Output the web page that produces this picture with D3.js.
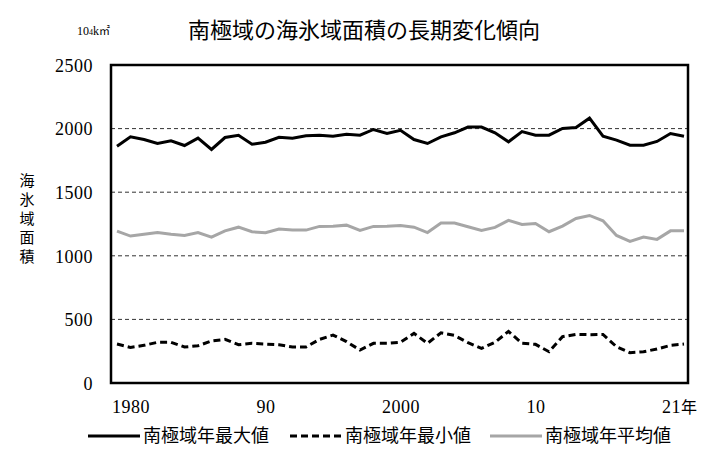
<!DOCTYPE html>
<html><head><meta charset="utf-8">
<script src="https://cdn.jsdelivr.net/npm/d3@7"></script>
<style>
html,body{margin:0;padding:0;background:#fff;}
svg{display:block;}
.serif{font-family:"Liberation Serif","DejaVu Serif",serif !important;}
</style></head>
<body>
<svg id="chart" width="722" height="466"></svg>
<script>
const years = d3.range(1979, 2022);
const maxValues = [1862,1935,1914,1883,1904,1867,1925,1836,1930,1948,1877,
  1893,1932,1925,1943,1948,1940,1956,1948,1993,1961,1987,
  1914,1883,1935,1967,2012,2012,1967,1896,1977,1948,
  1948,2001,2008,2082,1940,1909,1870,1870,1899,1961,1940];
const minValues = [306,280,296,320,320,283,293,330,343,301,
  312,306,301,283,283,343,377,325,259,312,312,320,
  390,312,395,374,317,272,320,406,312,304,
  246,364,382,380,382,285,238,246,267,296,306];
const meanValues = [1194,1155,1170,1183,1170,1160,1183,1147,1196,1225,1189,
  1181,1210,1202,1202,1231,1233,1241,1199,1231,1233,1238,
  1225,1183,1257,1257,1228,1199,1223,1278,1246,1254,
  1189,1233,1293,1317,1275,1160,1113,1147,1129,1196,1196];
const yTicks = [0,500,1000,1500,2000,2500];
const xTicks = [1980,1990,2000,2010,2021];
const xTickLabels = ["1980","90","2000","10","21年"];
const seriesNames = ["南極域年最大値","南極域年最小値","南極域年平均値"];
const titleText = "南極域の海氷域面積の長期変化傾向";
const yTitle = "海氷域面積";

const svg = d3.select("#chart");
const L = 111, R = 688, T = 65, B = 383;
const x = d3.scaleLinear().domain([1979, 2021]).range([117, 684]);
const y = d3.scaleLinear().domain([0, 2500]).range([B, T]);
const cjk = "'Noto Sans CJK JP','Noto Sans CJK SC',sans-serif";

// grid
svg.append("g").selectAll("line").data(yTicks.filter(d => d > 0 && d < 2500)).join("line")
  .attr("x1", L).attr("x2", R).attr("y1", d => y(d)).attr("y2", d => y(d))
  .attr("stroke", "#333").attr("stroke-width", 1).attr("stroke-dasharray", "4,3");

// y axis labels
const yAxis = d3.axisLeft(y).tickValues(yTicks).tickSize(0).tickPadding(0).tickFormat(d3.format("d"));
const gy = svg.append("g").attr("transform", `translate(93,0)`).call(yAxis);
gy.attr("font-family", null).attr("font-size", null);
gy.select(".domain").remove();
gy.selectAll("text").attr("class", "serif").style("font-size", "18px").attr("letter-spacing", "0.5px")
  .attr("fill", "#000").attr("dy", "0.35em");

// x axis labels
const xAxis = d3.axisBottom(x).tickValues(xTicks).tickSize(0).tickPadding(0)
  .tickFormat((d, i) => xTickLabels[i]);
const gx = svg.append("g").attr("transform", `translate(0,413)`).call(xAxis);
gx.attr("font-family", null).attr("font-size", null);
gx.select(".domain").remove();
gx.selectAll("text").attr("class", "serif").style("font-size", "18px").attr("letter-spacing", "0.5px")
  .attr("fill", "#000").attr("dy", 0)
  .attr("dx", (d, i) => i === xTicks.length - 1 ? -5 : 0);
gx.selectAll("text").filter((d, i) => i === xTicks.length - 1).each(function() {
  const t = d3.select(this); const s = t.text(); t.text("");
  t.append("tspan").text(s.slice(0, 2));
  t.append("tspan").style("font-family", cjk).style("font-size", "16px").attr("letter-spacing", "0px").text(s.slice(2));
});

// lines
const line = d3.line().x((d, i) => x(years[i])).y(d => y(d));
const styles = [
  {data: maxValues, color: "#000", dash: null},
  {data: minValues, color: "#000", dash: "7,4"},
  {data: meanValues, color: "#a6a6a6", dash: null}
];
styles.forEach(s => {
  svg.append("path").datum(s.data).attr("d", line).attr("fill", "none")
    .attr("stroke", s.color).attr("stroke-width", 3).attr("stroke-linejoin", "miter")
    .attr("stroke-dasharray", s.dash);
});

// frame
svg.append("rect").attr("x", L).attr("y", T).attr("width", R - L).attr("height", B - T)
  .attr("fill", "none").attr("stroke", "#000").attr("stroke-width", 2.5);

// title
svg.append("text").attr("x", 364).attr("y", 38).attr("text-anchor", "middle")
  .style("font-family", cjk).style("font-size", "22px").attr("fill", "#000").text(titleText);

// unit
const unit = svg.append("text").attr("x", 77).attr("y", 35).attr("class", "serif")
  .style("font-size", "12px").attr("fill", "#000");
unit.append("tspan").text("10");
unit.append("tspan").style("font-size", "8px").text("4");
unit.append("tspan").text("k");
unit.append("tspan").style("font-family", cjk).style("font-size", "11px").text("㎡");

// y title (vertical)
svg.append("g").selectAll("text").data(yTitle.split("")).join("text")
  .attr("x", 27).attr("y", (d, i) => 182 + i * 19).attr("text-anchor", "middle")
  .style("font-family", cjk).style("font-size", "15px").attr("fill", "#000")
  .attr("dominant-baseline", "middle").text(d => d);

// legend
const legendX = [88, 290, 490];
const lg = svg.append("g").selectAll("g").data(styles).join("g")
  .attr("transform", (d, i) => `translate(${legendX[i]},436)`);
lg.append("line").attr("x1", 0).attr("x2", 52).attr("y1", 0).attr("y2", 0)
  .attr("stroke", d => d.color).attr("stroke-width", 3).attr("stroke-dasharray", d => d.dash);
lg.append("text").attr("x", 55).attr("y", 0).attr("dy", "0.36em")
  .style("font-family", cjk).style("font-size", "18px").attr("fill", "#000")
  .text((d, i) => seriesNames[i]);
</script>
</body></html>
